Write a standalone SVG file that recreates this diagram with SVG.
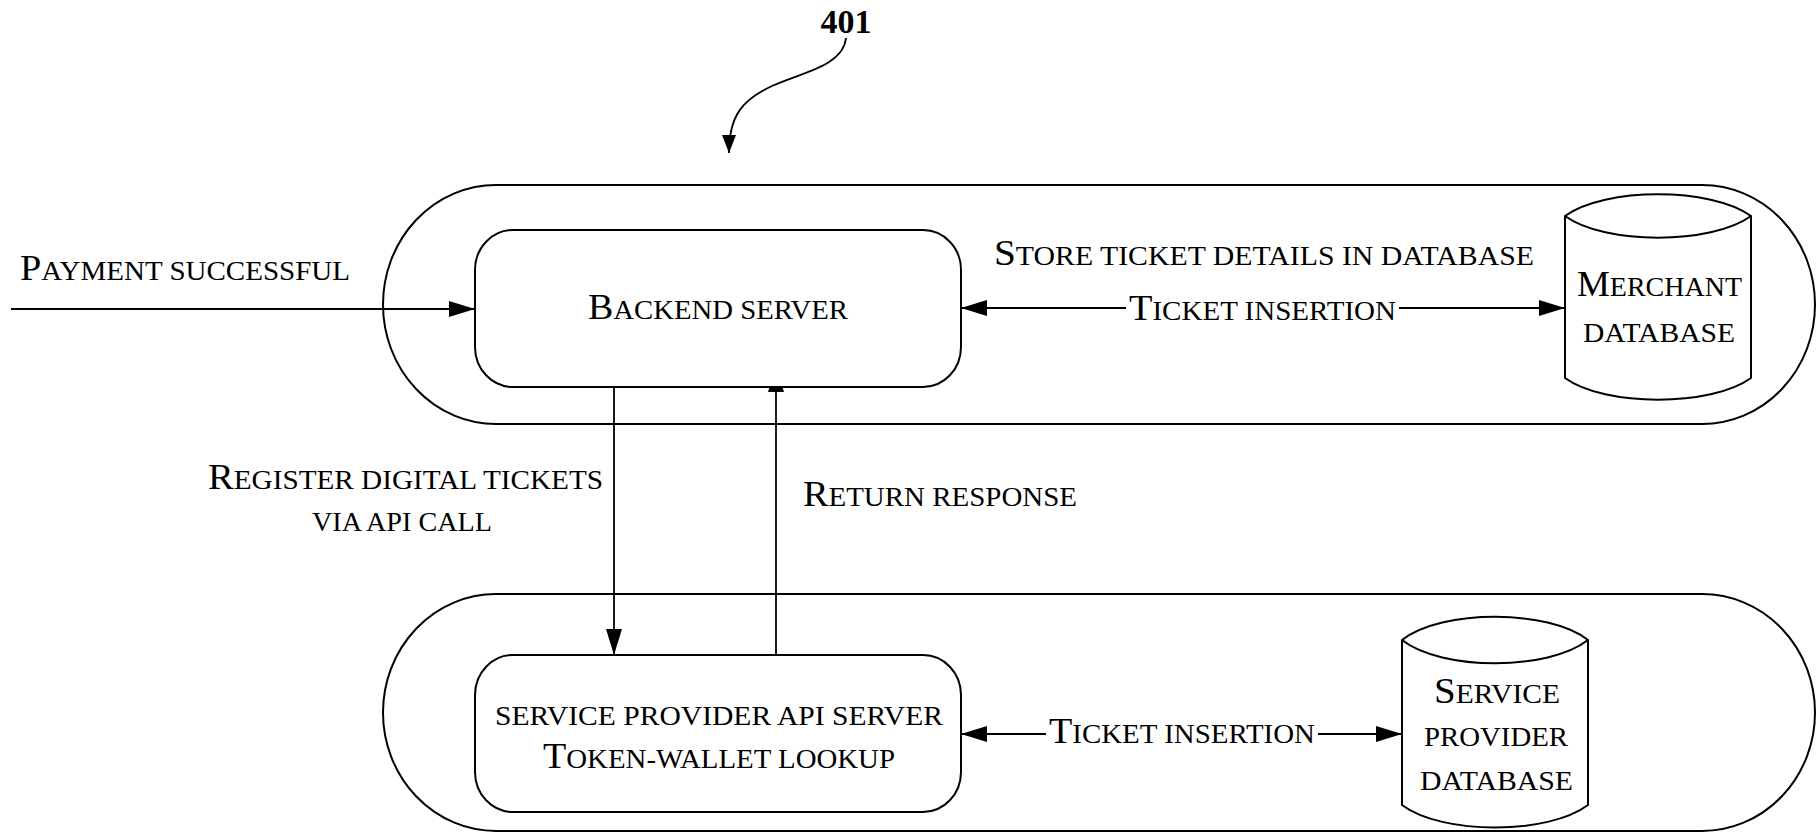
<svg xmlns="http://www.w3.org/2000/svg" width="1816" height="833" viewBox="0 0 1816 833">
  <style>
    .ln { stroke: #000; stroke-width: 2; fill: none; }
    .box { stroke: #000; stroke-width: 2; fill: #fff; }
    .wire { stroke: #000; stroke-width: 1.8; fill: none; }
    .t { font-family: "Liberation Serif", "Times New Roman", serif; font-size: 26.5px; fill: #000; }
    .c { font-size: 35px; }
    .num { font-family: "Liberation Serif", "Times New Roman", serif; font-size: 34px; font-weight: bold; fill: #000; }
  </style>
  <defs>
    <marker id="arrow" markerUnits="userSpaceOnUse" markerWidth="26" markerHeight="16" refX="26" refY="8" orient="auto">
      <path d="M0,0 L26,8 L0,16 Z" fill="#000"/>
    </marker>
    <marker id="arrow-sm" markerUnits="userSpaceOnUse" markerWidth="18" markerHeight="16" refX="18" refY="8" orient="auto">
      <path d="M0,1 L18,8 L0,15 Z" fill="#000"/>
    </marker>
  </defs>
  <rect width="1816" height="833" fill="#fff"/>

  <!-- reference numeral with curved leader -->
  <g id="ref-401">
    <text class="num" x="846" y="33" text-anchor="middle">401</text>
    <path class="wire" d="M846,38 C843,66 803,72 772,86 C742,100 729,116 729,153" marker-end="url(#arrow-sm)"/>
  </g>

  <!-- system containers -->
  <g id="merchant-system">
    <rect class="ln" x="383" y="185" width="1432" height="239" rx="113" ry="119.5"/>
  </g>
  <g id="provider-system">
    <rect class="ln" x="383" y="594" width="1432" height="237" rx="113" ry="118.5"/>
  </g>

  <!-- connectors and their labels -->
  <g id="connectors">
    <line class="wire" x1="11" y1="309" x2="475" y2="309" marker-end="url(#arrow)"/>
    <text class="t" x="20" y="280" textLength="330" lengthAdjust="spacingAndGlyphs"><tspan class="c">P</tspan>AYMENT SUCCESSFUL</text>

    <text class="t" x="994" y="265" textLength="540" lengthAdjust="spacingAndGlyphs"><tspan class="c">S</tspan>TORE TICKET DETAILS IN DATABASE</text>
    <line class="wire" x1="1126" y1="308" x2="961" y2="308" marker-end="url(#arrow)"/>
    <line class="wire" x1="1399" y1="308" x2="1565" y2="308" marker-end="url(#arrow)"/>
    <text class="t" x="1129" y="320" textLength="267" lengthAdjust="spacingAndGlyphs"><tspan class="c">T</tspan>ICKET INSERTION</text>

    <line class="wire" x1="614" y1="387" x2="614" y2="655" marker-end="url(#arrow)"/>
    <text class="t" x="208" y="489" textLength="395" lengthAdjust="spacingAndGlyphs"><tspan class="c">R</tspan>EGISTER DIGITAL TICKETS</text>
    <text class="t" x="312" y="531" textLength="180" lengthAdjust="spacingAndGlyphs">VIA API CALL</text>

    <line class="wire" x1="776" y1="655" x2="776" y2="366" marker-end="url(#arrow)"/>
    <text class="t" x="803" y="506" textLength="274" lengthAdjust="spacingAndGlyphs"><tspan class="c">R</tspan>ETURN RESPONSE</text>

    <line class="wire" x1="1046" y1="734" x2="961" y2="734" marker-end="url(#arrow)"/>
    <line class="wire" x1="1318" y1="734" x2="1402" y2="734" marker-end="url(#arrow)"/>
    <text class="t" x="1049" y="743" textLength="266" lengthAdjust="spacingAndGlyphs"><tspan class="c">T</tspan>ICKET INSERTION</text>
  </g>

  <!-- backend server -->
  <g id="backend-server">
    <rect class="box" x="475" y="230" width="486" height="157" rx="38" ry="40"/>
    <text class="t" x="588" y="319" textLength="260" lengthAdjust="spacingAndGlyphs"><tspan class="c">B</tspan>ACKEND SERVER</text>
  </g>

  <!-- service provider API server -->
  <g id="provider-api-server">
    <rect class="box" x="475" y="655" width="486" height="157" rx="38" ry="40"/>
    <text class="t" x="495" y="725" textLength="448" lengthAdjust="spacingAndGlyphs">SERVICE PROVIDER API SERVER</text>
    <text class="t" x="543" y="768" textLength="352" lengthAdjust="spacingAndGlyphs"><tspan class="c">T</tspan>OKEN-WALLET LOOKUP</text>
  </g>

  <!-- merchant database -->
  <g id="merchant-database">
    <path class="box" d="M1565,216 C1605,187 1711,187 1751,216 L1751,378 C1711,407 1605,407 1565,378 Z"/>
    <path class="ln" d="M1565,216 C1605,245 1711,245 1751,216"/>
    <text class="t" x="1577" y="296" textLength="165" lengthAdjust="spacingAndGlyphs"><tspan class="c">M</tspan>ERCHANT</text>
    <text class="t" x="1583" y="342" textLength="152" lengthAdjust="spacingAndGlyphs">DATABASE</text>
  </g>

  <!-- service provider database -->
  <g id="provider-database">
    <path class="box" d="M1402,640 C1442,609 1548,609 1588,640 L1588,805 C1548,835 1442,835 1402,805 Z"/>
    <path class="ln" d="M1402,640 C1442,671 1548,671 1588,640"/>
    <text class="t" x="1434" y="703" textLength="126" lengthAdjust="spacingAndGlyphs"><tspan class="c">S</tspan>ERVICE</text>
    <text class="t" x="1424" y="746" textLength="144" lengthAdjust="spacingAndGlyphs">PROVIDER</text>
    <text class="t" x="1420" y="790" textLength="153" lengthAdjust="spacingAndGlyphs">DATABASE</text>
  </g>
</svg>
